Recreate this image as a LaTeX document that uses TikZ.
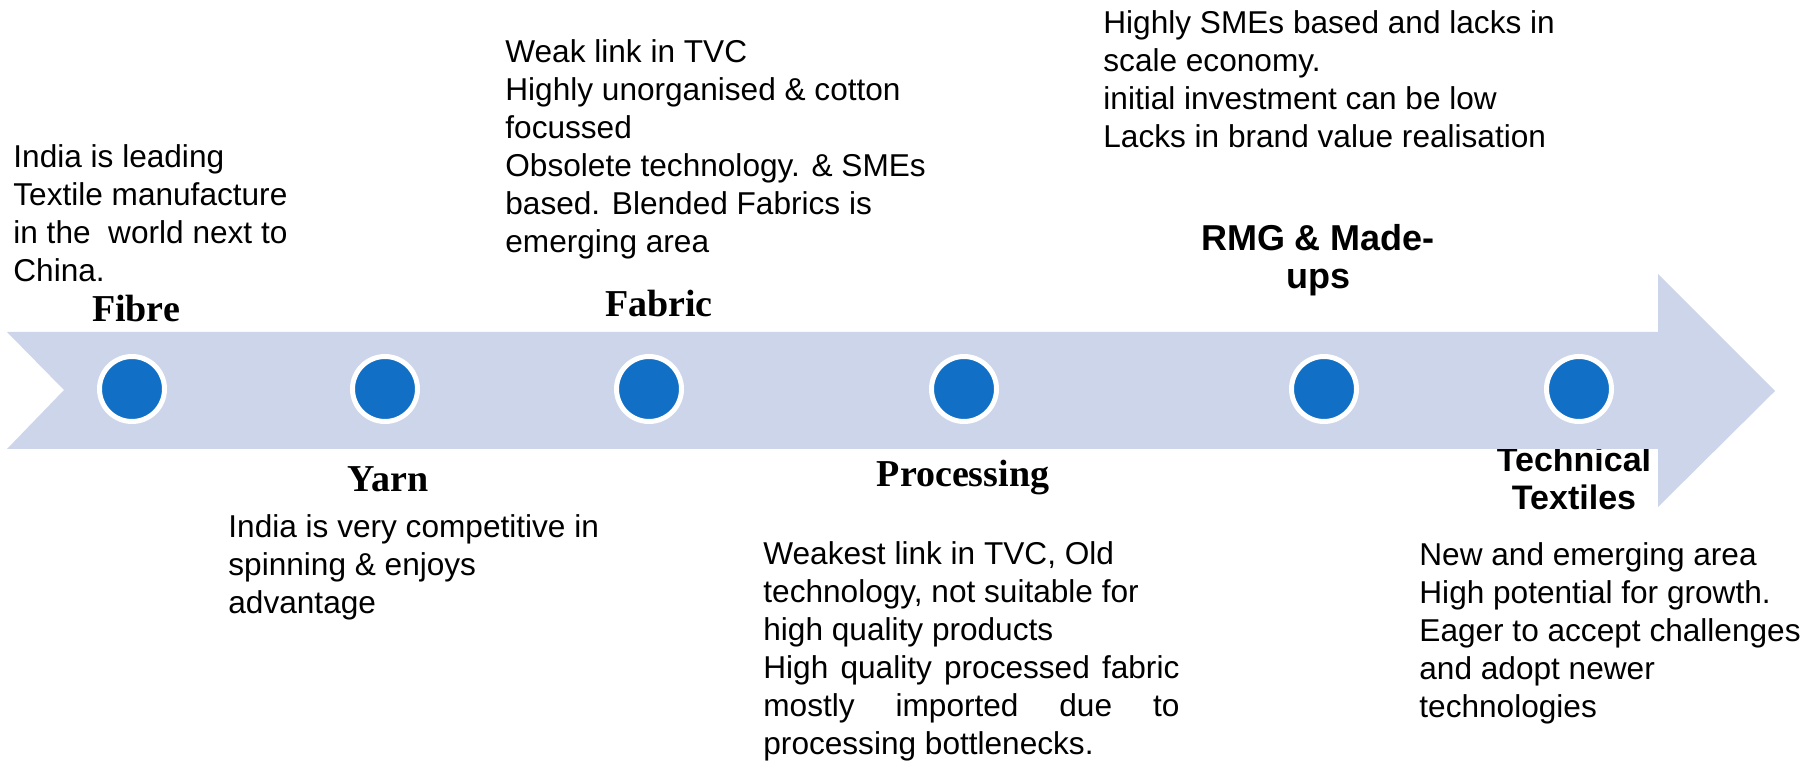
\documentclass[tikz,border=0pt]{standalone}
\usepackage{fontspec}
\setmainfont{Liberation Sans}
\newfontfamily\stagefont{Liberation Serif}
\usetikzlibrary{positioning}
\definecolor{bandblue}{RGB}{205,213,234}
\definecolor{dotblue}{RGB}{17,112,198}
\begin{document}
\begin{tikzpicture}[x=0.5pt, y=-0.5pt,
		note/.style={anchor=north west, inner sep=0, align=left, font=\fontsize{15.8}{19}\selectfont},
		stage/.style={anchor=base, inner sep=0, font=\stagefont\bfseries\fontsize{19}{21}\selectfont},
		sansstage/.style={anchor=north, inner sep=0, align=center, font=\bfseries\fontsize{18}{19}\selectfont},
		dot/.style={circle, fill=dotblue, draw=white, line width=2.5pt, minimum size=32.5pt, inner sep=0}]
		\useasboundingbox (0,0) rectangle (1818,763);
		% this label sits under the arrow head
		\node[sansstage, font=\bfseries\fontsize{17}{19}\selectfont] (technical) at (1574,446) {Technical\\Textiles};
		% arrow band
		\fill[bandblue] (7,332)--(1658,332)--(1658,274)--(1775,391)--(1658,507)--(1658,449)--(7,449)--(64,390)--cycle;
		\foreach \x/\n in {132/fibre,385/yarn,649/fabric,964/processing,1324/rmg,1579/tech}
		\node[dot] (dot-\n) at (\x,389) {};
		% stage names
		\node[stage] (fibre) at (136,322) {Fibre};
		\node[stage] (yarn) at (388,492) {Yarn};
		\node[stage] (fabric) at (659,317) {Fabric};
		\node[stage] (processing) at (963,487) {Processing};
		\node[sansstage] (rmg) at (1318,224) {RMG \& Made-\\ups};
		% notes
		\node[note] (fibrenote) at (13,144) {India is leading\\Textile manufacture\\in the\ \ world next to\\China.};
		\node[note] (fabricnote) at (505,39) {Weak link in TVC\\Highly unorganised \& cotton\\focussed\\Obsolete technology. \& SMEs\\based. Blended Fabrics is\\emerging area};
		\node[note] (yarnnote) at (228,514) {India is very competitive in\\spinning \& enjoys\\advantage};
		\node[note, text width=208pt, align=justify] (processingnote) at (763,541) {Weakest link in TVC, Old\\technology, not suitable for\\high quality products\\High quality processed fabric\linebreak mostly imported due to\linebreak processing bottlenecks.};
		\node[note] (rmgnote) at (1103,10) {Highly SMEs based and lacks in\\scale economy.\\initial investment can be low\\Lacks in brand value realisation};
		\node[note] (technote) at (1419,542) {New and emerging area\\High potential for growth.\\Eager to accept challenges\\and adopt newer\\technologies};
\end{tikzpicture}
\end{document}
